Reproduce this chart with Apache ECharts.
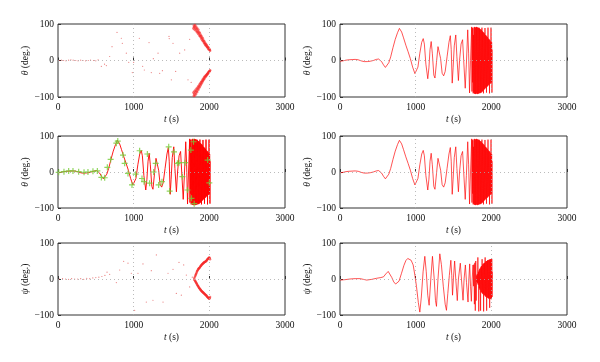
<!DOCTYPE html>
<html><head><meta charset="utf-8">
<script src="https://cdn.jsdelivr.net/npm/echarts@6/dist/echarts.min.js"></script>
<style>html,body{margin:0;padding:0;background:#fff}#c{width:600px;height:362px}</style>
</head><body><div id="c"></div>
<script>
// ---- data ----
const xTicks = [0, 1000, 2000, 3000];
const yTicks = [-100, 0, 100];

// theta line (t in s, theta in deg)
const thetaLine = [[0,-2],[40,-1],[80,1],[120,2],[160,2.5],[200,3],[240,2],[280,-1],[320,-3],[360,-3],[400,-2],[440,0],[480,3],[510,4],[530,2],[550,-3],[575,-12],[600,-19],[620,-17],[645,-6],[670,10],[700,35],[730,58],[760,76],[785,88],[800,86],[815,78],[840,62],[870,42],[900,24],[930,5],[960,-18],[990,-36],[1010,-40],[1030,-18],[1055,20],[1080,50],[1100,60],[1115,45],[1135,-10],[1160,-50],[1175,-20],[1190,30],[1205,52],[1220,20],[1240,-40],[1255,-48],[1275,-5],[1295,38],[1310,42],[1330,5],[1350,-35],[1370,-42],[1390,-30],[1415,10],[1440,50],[1458,68],[1470,30],[1483,-62],[1495,-20],[1510,40],[1530,70],[1545,10],[1565,-55],[1580,0],[1600,45],[1620,57],[1635,0],[1655,-76],[1670,-10],[1688,84],[1700,20],[1712,-89],[1725,0],[1740,92],
[1744,-85],[1748,90],[1752,-60],[1756,88],[1760,-90],[1764,70],[1768,-88],[1772,91],[1776,-91],[1780,92],[1784,-91],[1788,90],[1792,-92],[1796,91],[1800,-90],[1804,92],[1808,-91],[1812,90],[1816,-92],[1820,91],[1824,-90],[1828,89],[1832,-91],[1836,90],[1840,-89],[1844,88],[1848,-90],[1852,86],[1856,-88],[1860,85],[1864,-89],[1868,84],[1872,-86],[1876,90],[1880,-85],[1884,80],[1888,-84],[1892,78],[1896,-90],[1900,76],[1904,-80],[1908,74],[1912,-78],[1916,89],[1920,-76],[1924,70],[1928,-74],[1932,68],[1936,-88],[1940,66],[1944,-72],[1948,64],[1952,-70],[1956,90],[1960,-68],[1964,60],[1968,-66],[1972,58],[1976,-90],[1980,56],[1984,-64],[1988,52],[1992,-62],[1996,90],[2000,-60],[2004,50],[2008,-88],[2012,30]];

// psi line
const psiLine = [[0,-3],[60,-2],[132,0],[200,1],[264,1],[310,-1],[352,-3],[420,-1],[484,2],[540,4],[575,6],[605,14],[637,21],[660,16],[685,4],[710,-8],[735,-14],[756,-15],[780,-6],[813,16],[845,38],[870,51],[895,57],[914,58],[940,52],[967,39],[990,10],[1011,-21],[1035,-65],[1055,-92],[1075,-50],[1098,20],[1121,63],[1140,20],[1160,-45],[1178,-73],[1200,0],[1222,63],[1245,0],[1262,-60],[1275,-76],[1295,0],[1319,70],[1340,40],[1365,-20],[1390,-70],[1407,-87],[1425,-40],[1445,10],[1465,52],[1477,10],[1487,-45],[1500,5],[1515,50],[1530,0],[1550,-60],[1565,0],[1590,44],[1605,0],[1626,-59],[1640,0],[1657,39],[1672,-10],[1692,-64],[1703,0],[1714,42],[1725,-20],[1736,-62],[1747,0],[1758,39],[1766,-20],
[1770,40],[1776,-70],[1782,45],[1788,-88],[1794,50],[1800,-60],[1806,10],[1810,-8],[1814,14],[1818,-12],[1822,60],[1826,-16],[1830,20],[1834,-90],[1838,24],[1842,-26],[1846,28],[1850,-30],[1854,30],[1858,-88],[1862,34],[1866,-36],[1870,36],[1874,-38],[1878,55],[1882,-40],[1886,40],[1890,-42],[1894,42],[1898,-90],[1902,44],[1906,-44],[1910,45],[1914,-46],[1918,60],[1922,-48],[1926,48],[1930,-50],[1934,50],[1938,-88],[1942,50],[1946,-52],[1950,52],[1954,-52],[1958,52],[1962,-54],[1966,53],[1970,-54],[1974,54],[1978,-80],[1982,54],[1986,-55],[1990,55],[1994,-56],[1998,55],[2002,-56],[2006,56],[2010,-50],[2014,20]];

// estimated theta points (scatter, top-left): isolated points
const thetaEst = [[20,0],[45,1],[75,0],[105,-1],[140,1],[170,2],[200,1],[235,0],[265,-1],[300,1],[330,0],[365,-1],[400,0],[430,1],[470,0],[500,-1],[530,2],
[573,-16],[615,-10],[639,-14],[683,11],[714,38],[780,77],[837,61],[850,47],[903,20],[935,-5],[982,-33],[1000,-5],[1075,61],[1119,-16],[1141,-26],[1203,49],[1233,-33],[1260,5],[1322,20],[1344,-35],[1380,-28],[1467,66],[1470,60],[1498,-53],[1520,47],[1555,-30],[1608,20],[1674,29],[1718,-53],[1740,58],[1760,-60]];
// theta estimate clusters (the two arcs after 1780 s)
const thetaArcs = [[1790,88],[1795,95],[1800,92],[1805,85],[1810,97],[1815,90],[1820,82],[1825,93],[1830,86],[1835,78],[1840,88],[1845,80],[1850,75],[1855,84],[1860,72],[1865,78],[1870,68],[1875,75],[1880,66],[1885,70],[1890,62],[1895,67],[1900,58],[1905,63],[1910,55],[1915,60],[1920,52],[1925,55],[1930,48],[1935,52],[1940,45],[1945,48],[1950,42],[1955,45],[1960,40],[1965,42],[1970,37],[1975,38],[1980,34],[1985,36],[1990,31],[1995,33],[2000,30],[2005,29],[2010,27],
[1790,-88],[1795,-97],[1800,-92],[1805,-84],[1810,-96],[1815,-88],[1820,-80],[1825,-92],[1830,-84],[1835,-76],[1840,-86],[1845,-78],[1850,-72],[1855,-80],[1860,-70],[1865,-75],[1870,-66],[1875,-72],[1880,-63],[1885,-68],[1890,-60],[1895,-64],[1900,-57],[1905,-60],[1910,-53],[1915,-56],[1920,-50],[1925,-53],[1930,-47],[1935,-50],[1940,-44],[1945,-46],[1950,-42],[1955,-43],[1960,-40],[1965,-40],[1970,-37],[1975,-38],[1980,-35],[1985,-34],[1990,-32],[1995,-31],[2000,-30],[2005,-29],[2010,-27]];

// estimated psi points (scatter, bottom-left)
const psiEst = [[20,0],[60,1],[100,0],[140,-1],[180,1],[220,0],[260,0],[300,1],[340,-1],[380,2],[420,1],[460,3],[500,4],[540,5],[580,7],[620,10],
[648,19],[683,13],[771,-10],[815,25],[868,49],[925,44],[969,16],[1013,-87],[1057,16],[1123,42],[1167,-64],[1233,23],[1255,-59],[1300,67],[1388,-64],[1454,16],[1520,27],[1564,-40],[1599,46],[1630,-45],[1661,39],[1696,11],[1740,-22],[1775,5]];
const psiArcs = [[1800,2],[1810,6],[1815,9],[1820,12],[1825,14],[1830,17],[1835,20],[1840,22],[1845,24],[1850,26],[1855,28],[1860,29],[1865,30],[1870,31],[1875,33],[1880,34],[1885,36],[1890,37],[1895,38],[1900,40],[1905,41],[1910,42],[1915,43],[1920,44],[1925,45],[1930,46],[1935,47],[1940,47],[1945,48],[1950,49],[1955,49],[1960,50],[1965,52],[1970,53],[1975,55],[1980,56],[1985,57],[1990,58],[1995,59],[2000,60],[2005,58],[2010,55],
[1800,-2],[1810,-4],[1815,-6],[1820,-8],[1825,-10],[1830,-12],[1835,-14],[1840,-16],[1845,-18],[1850,-19],[1855,-21],[1860,-23],[1865,-25],[1870,-26],[1875,-27],[1880,-29],[1885,-30],[1890,-31],[1895,-33],[1900,-34],[1905,-35],[1910,-36],[1915,-37],[1920,-38],[1925,-39],[1930,-40],[1935,-41],[1940,-42],[1945,-43],[1950,-44],[1955,-45],[1960,-46],[1965,-47],[1970,-49],[1975,-50],[1980,-51],[1985,-52],[1990,-53],[1995,-54],[2000,-55],[2005,-53],[2010,-50]];

// green markers (middle-left)
const markers = [[9,-1],[79,1],[141,3],[198,3],[273,1],[344,-1],[396,0],[462,2],[520,3],[573,-15],[617,-16],[652,13],[696,35],[771,80],[790,86],[859,47],[881,24],[925,-4],[978,-36],[1026,-6],[1079,59],[1110,-18],[1137,-27],[1181,50],[1211,-31],[1264,0],[1291,24],[1330,-36],[1374,-27],[1463,70],[1476,-53],[1533,56],[1578,24],[1600,26],[1644,-13],[1680,26],[1711,-50],[1756,61],[1764,-73],[1791,84],[1800,-88],[1978,33],[2000,-30]];

// ---- chart ----
const FONT = 'Liberation Serif';
const grids = [
  {left:58, top:24, width:227, height:73},
  {left:340, top:24, width:227, height:73},
  {left:58, top:136, width:227, height:72},
  {left:340, top:136, width:227, height:72},
  {left:58, top:243, width:227, height:72},
  {left:340, top:243, width:227, height:72}
];
const yNames = ['θ','θ','θ','θ','ψ','ψ'];
const txt = {fontFamily: FONT, fontSize: 9.5, color: '#111'};
const option = {
  animation: false,
  grid: grids.map(g => Object.assign({show:true, borderColor:'#333', borderWidth:1, backgroundColor:'transparent'}, g)),
  xAxis: grids.map((g,i) => ({
    type:'value', gridIndex:i, min:xTicks[0], max:xTicks[xTicks.length-1], interval:1000,
    name:'{i|t} (s)', nameLocation:'middle', nameGap:17,
    nameTextStyle: Object.assign({}, txt, {rich:{i:Object.assign({}, txt, {fontStyle:'italic'})}}),
    axisLine:{show:false}, axisTick:{show:true, inside:true, length:3, lineStyle:{color:'#333'}},
    axisLabel: Object.assign({margin:5, formatter: v => String(v)}, txt),
    splitLine:{show:false}
  })),
  yAxis: grids.map((g,i) => ({
    type:'value', gridIndex:i, min:yTicks[0], max:yTicks[yTicks.length-1], interval:100,
    name:'{i|' + yNames[i] + '} (deg.)', nameLocation:'middle', nameGap:25,
    nameTextStyle: Object.assign({}, txt, {rich:{i:Object.assign({}, txt, {fontStyle:'italic'})}}),
    axisLine:{show:false}, axisTick:{show:true, inside:true, length:3, lineStyle:{color:'#333'}},
    axisLabel: Object.assign({margin:4, formatter: v => v < 0 ? '\u2212' + (-v) : String(v)}, txt),
    splitLine:{show:false}
  })),
  series: []
};
const gridMark = {
  silent:true, symbol:'none', label:{show:false},
  lineStyle:{type:[1,3], color:'#aaa', width:0.8},
  data:[{xAxis:1000},{xAxis:2000},{yAxis:0}]
};
function lineSeries(i, data, w, op) {
  return {type:'line', xAxisIndex:i, yAxisIndex:i, data:data, showSymbol:false, symbol:'none',
    sampling:null, lineStyle:{color:'#ff0000', width:w, opacity:op}, z:2};
}
function scatterSeries(i, data, size, col) {
  return {type:'scatter', xAxisIndex:i, yAxisIndex:i, data:data, symbolSize:size,
    itemStyle:{color:col}, z:2};
}
option.series.push(Object.assign(scatterSeries(0, thetaEst, 1.2, 'rgba(220,40,40,0.75)'), {markLine:gridMark}));
option.series.push(scatterSeries(0, thetaArcs, 2.6, 'rgba(245,40,40,0.8)'));
option.series.push(Object.assign(lineSeries(1, thetaLine, 0.8, 0.85), {markLine:gridMark}));
option.series.push(Object.assign(lineSeries(2, thetaLine, 1, 0.9), {markLine:gridMark}));
option.series.push({type:'scatter', xAxisIndex:2, yAxisIndex:2, data:markers, symbol:'path://M5,0L5,10M0,5L10,5', symbolSize:6,
  itemStyle:{color:'transparent', borderColor:'#74cc36', borderWidth:1.2}, z:3});
option.series.push(Object.assign(lineSeries(3, thetaLine, 0.8, 0.85), {markLine:gridMark}));
option.series.push(Object.assign(scatterSeries(4, psiEst, 1.2, 'rgba(220,40,40,0.75)'), {markLine:gridMark}));
option.series.push(scatterSeries(4, psiArcs, 2.4, 'rgba(245,40,40,0.8)'));
option.series.push(Object.assign(lineSeries(5, psiLine, 0.8, 0.85), {markLine:gridMark}));

const chart = echarts.init(document.getElementById('c'), null, {renderer:'canvas'});
chart.setOption(option);
</script></body></html>
